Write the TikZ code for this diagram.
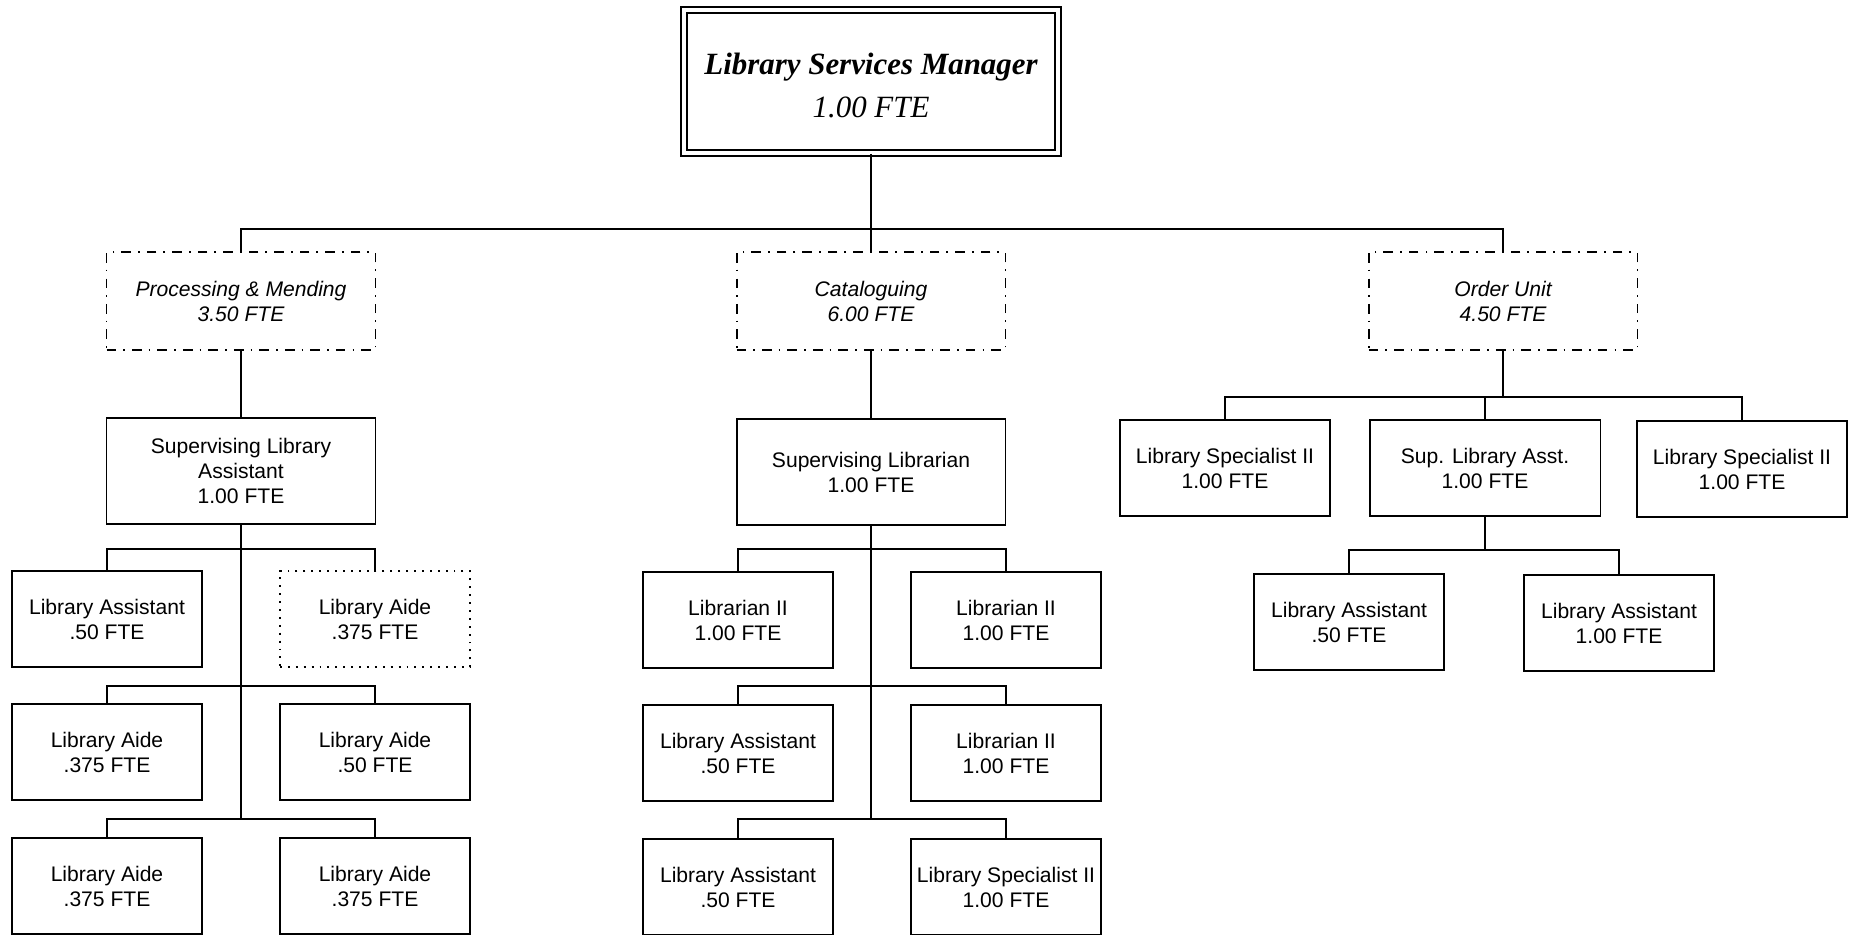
\documentclass[tikz,border=0pt]{standalone}
\usepackage{fontspec}
\setmainfont{Liberation Sans}
\newfontfamily\headfont{Liberation Serif}
\usetikzlibrary{positioning}

\begin{document}
\begin{tikzpicture}[
    x=0.02cm, y=-0.02cm,
    topbox/.style={rectangle, draw, double, line width=1pt, double distance=2.5pt, minimum width=7.48cm, minimum height=2.86cm, inner sep=0pt, align=center, font=\headfont\itshape\fontsize{17.6}{24.5}\selectfont},
    postbox/.style={rectangle, draw, line width=1.1pt, minimum width=3.8cm, minimum height=1.92cm, inner sep=0pt, align=center, font=\fontsize{12}{14.2}\selectfont},
    leadbox/.style={postbox, minimum width=5.38cm, minimum height=2.12cm},
    unitbox/.style={leadbox, minimum height=1.96cm, dash pattern=on 5.5pt off 4pt on 1pt off 4pt, font=\fontsize{12}{14.2}\selectfont\itshape},
    vacant/.style={dash pattern=on 1.1pt off 3.4pt},
    link/.style={line width=0.8pt}
]
\useasboundingbox (0,0) rectangle (1855,934);
\clip (0,0) rectangle (1855,934);

\node[topbox] (mgr) at (871,81.5) {\rule{0pt}{17pt}\bfseries Library Services Manager\\1.00 FTE};

\node[unitbox] (proc) at (241,301) {Processing \& Mending\\3.50 FTE};
\node[unitbox] (cat) at (871,301) {Cataloguing\\6.00 FTE};
\node[unitbox] (order) at (1503,301) {Order Unit\\4.50 FTE};

\node[leadbox] (supla) at (241,471) {Supervising Library\\Assistant\\1.00 FTE};
\node[leadbox] (suplib) at (871,472) {Supervising Librarian\\1.00 FTE};

% processing & mending
\node[postbox] (pm1) at (107,619) {Library Assistant\\.50 FTE};
\node[postbox, vacant] (pm2) at (375,619) {Library Aide\\.375 FTE};
\node[postbox] (pm3) at (107,752) {Library Aide\\.375 FTE};
\node[postbox] (pm4) at (375,752) {Library Aide\\.50 FTE};
\node[postbox] (pm5) at (107,886) {Library Aide\\.375 FTE};
\node[postbox] (pm6) at (375,886) {Library Aide\\.375 FTE};

% cataloguing
\node[postbox] (ct1) at (738,620) {Librarian II\\1.00 FTE};
\node[postbox] (ct2) at (1006,620) {Librarian II\\1.00 FTE};
\node[postbox] (ct3) at (738,753) {Library Assistant\\.50 FTE};
\node[postbox] (ct4) at (1006,753) {Librarian II\\1.00 FTE};
\node[postbox] (ct5) at (738,887) {Library Assistant\\.50 FTE};
\node[postbox] (ct6) at (1006,887) {Library Specialist II\\1.00 FTE};

% order unit
\node[postbox, minimum width=4.2cm] (ou1) at (1225,468) {Library Specialist II\\1.00 FTE};
\node[postbox, minimum width=4.62cm] (ou2) at (1485,468) {Sup. Library Asst.\\1.00 FTE};
\node[postbox, minimum width=4.2cm] (ou3) at (1742,469) {Library Specialist II\\1.00 FTE};
\node[postbox] (ou4) at (1349,622) {Library Assistant\\.50 FTE};
\node[postbox] (ou5) at (1619,623) {Library Assistant\\1.00 FTE};

% junctions
\coordinate (top) at (871,229);
\coordinate (pmA) at (241,549);
\coordinate (pmB) at (241,686);
\coordinate (pmC) at (241,819);
\coordinate (ctA) at (871,549);
\coordinate (ctB) at (871,686);
\coordinate (ctC) at (871,819);
\coordinate (ouA) at (1503,397);
\coordinate (ouB) at (1485,550);

\draw[link] (mgr) -- (top);
\draw[link] (top) -| (proc);
\draw[link] (top) -- (cat);
\draw[link] (top) -| (order);

\draw[link] (proc) -- (supla);
\draw[link] (supla) -- (pmC);
\draw[link] (pm1) |- (pmA) -| (pm2);
\draw[link] (pm3) |- (pmB) -| (pm4);
\draw[link] (pm5) |- (pmC) -| (pm6);

\draw[link] (cat) -- (suplib);
\draw[link] (suplib) -- (ctC);
\draw[link] (ct1) |- (ctA) -| (ct2);
\draw[link] (ct3) |- (ctB) -| (ct4);
\draw[link] (ct5) |- (ctC) -| (ct6);

\draw[link] (order) -- (ouA);
\draw[link] (ou1) |- (ouA) -| (ou3);
\draw[link] (ou2) -- (ou2 |- ouA);
\draw[link] (ou2) -- (ouB);
\draw[link] (ou4) |- (ouB) -| (ou5);
\end{tikzpicture}
\end{document}
